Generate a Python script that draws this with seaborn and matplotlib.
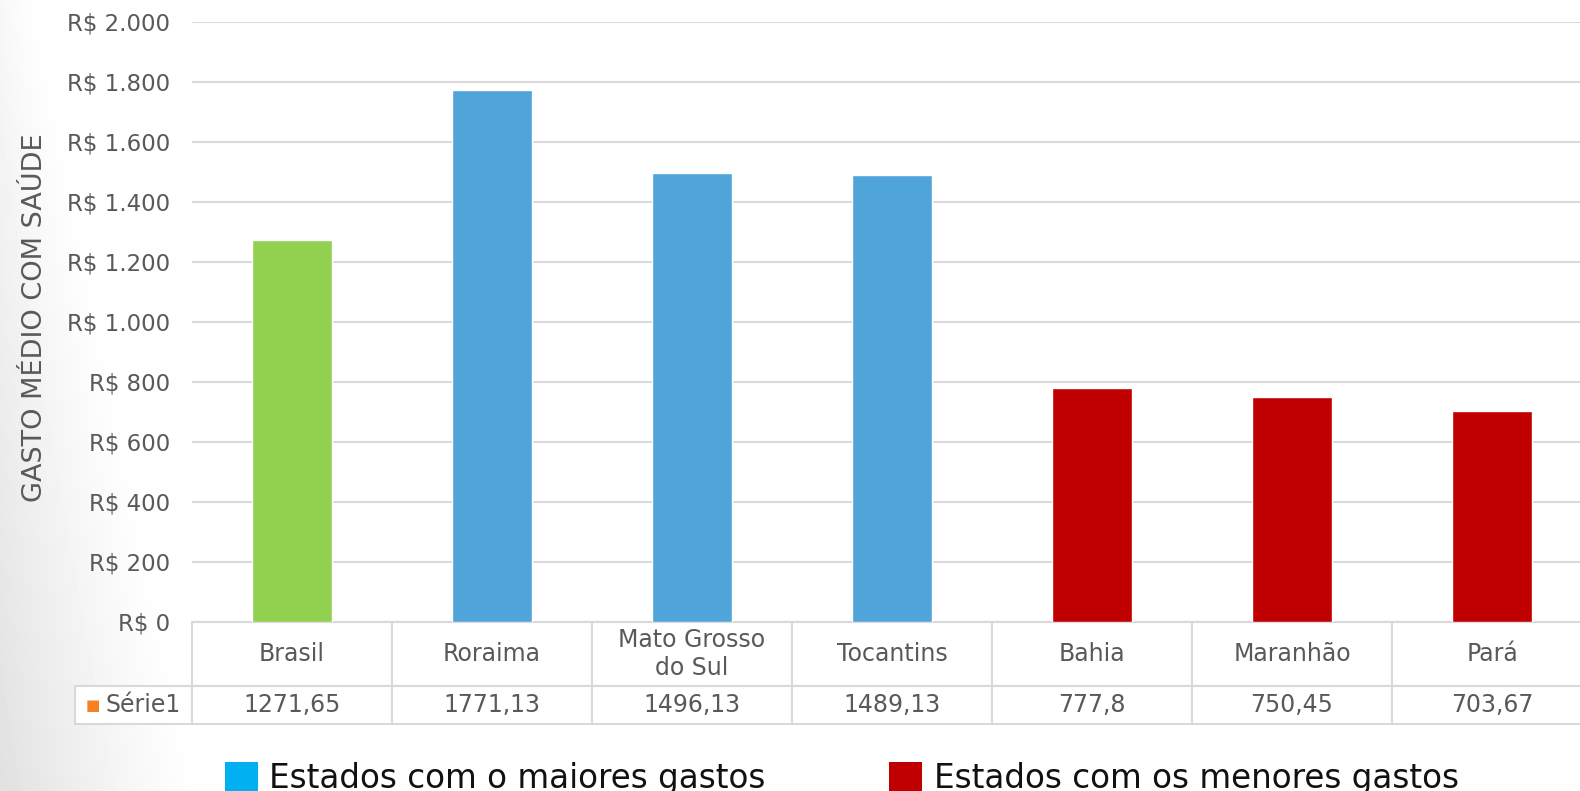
import matplotlib
matplotlib.use("Agg")
import matplotlib.pyplot as plt
from matplotlib.patches import Patch
from matplotlib.table import Table
from matplotlib.ticker import FuncFormatter
import numpy as np
import seaborn as sns

categories = ["Brasil", "Roraima", "Mato Grosso do Sul", "Tocantins", "Bahia", "Maranhão", "Pará"]
header_labels = ["Brasil", "Roraima", "Mato Grosso\ndo Sul", "Tocantins", "Bahia", "Maranhão", "Pará"]
gastos = [1271.65, 1771.13, 1496.13, 1489.13, 777.8, 750.45, 703.67]
grupos = ["Brasil", "maiores", "maiores", "maiores", "menores", "menores", "menores"]
serie_label = "Série1"
legend_labels = ["Estados com o maiores gastos", "Estados com os menores gastos"]

bar_colors = {"Brasil": "#92D050", "maiores": "#4FA5DA", "menores": "#C00000"}
legend_colors = ["#00B0F0", "#C00000"]
gray = "#595959"
line_gray = "#D9D9D9"

sns.set_theme(style="white")
plt.rcParams["font.family"] = ["DejaVu Sans"]

fig = plt.figure(figsize=(15.8, 7.91), dpi=100, facecolor="white")

# soft slide background on the left edge
H, W = 791, 1580
yy, xx = np.mgrid[0:H, 0:W]
reach = 40 + 170 * (yy / H)
amp = 0.03 + 0.09 * (yy / H)
shade = 1 - amp * np.clip(1 - xx / reach, 0, 1) ** 1.3
bg = fig.add_axes([0, 0, 1, 1], zorder=-10)
bg.imshow(shade, cmap="gray", vmin=0, vmax=1, aspect="auto")
bg.axis("off")

# plot area: x 192..1592 px, y 21.7..621.7 px
plot_w, plot_h = 1400, 600
ax = fig.add_axes([192 / W, (H - 621.7) / H, plot_w / W, plot_h / H])
ax.set_facecolor("none")

sns.barplot(
    x=categories,
    y=gastos,
    hue=grupos,
    palette=bar_colors,
    width=0.4,
    dodge=False,
    saturation=1,
    legend=False,
    ax=ax,
)

ax.set_xlim(-0.5, len(categories) - 0.5)
ax.set_ylim(0, 2000)
ax.set_yticks(range(0, 2001, 200))
ax.yaxis.set_major_formatter(FuncFormatter(lambda v, _: "R$ " + f"{int(v):,}".replace(",", ".")))
ax.yaxis.grid(True, color=line_gray, linewidth=1.5)
ax.set_axisbelow(True)
ax.tick_params(axis="y", length=0, pad=15.8, labelsize=16.5, labelcolor=gray)
ax.set_xticks([])
ax.set_xlabel("")
for spine in ax.spines.values():
    spine.set_visible(False)

ax.set_ylabel("GASTO MÉDIO COM SAÚDE", fontsize=19.5, color=gray)
ax.yaxis.set_label_coords((48 - 192) / plot_w, 0.507)

# data table under the plot (Excel style), sizes in axes units
label_w, col_w = 117 / plot_w, 200 / plot_w
head_h, val_h = 64.3 / plot_h, 38.0 / plot_h
tbl = Table(ax, bbox=[0, -(head_h + val_h), 1.0, head_h + val_h])
for i, (head, value) in enumerate(zip(header_labels, gastos)):
    tbl.add_cell(0, i, width=col_w, height=head_h, text=head, loc="center",
                 facecolor="white", edgecolor=line_gray)
    tbl.add_cell(1, i, width=col_w, height=val_h, text=f"{value:g}".replace(".", ","), loc="center",
                 facecolor="white", edgecolor=line_gray)
tbl.add_cell(1, -1, width=label_w, height=val_h, text=serie_label, loc="right",
             facecolor="white", edgecolor=line_gray)
tbl.auto_set_font_size(False)
tbl.set_fontsize(17)
for cell in tbl.get_celld().values():
    cell.set_linewidth(1.5)
    cell.get_text().set_color(gray)
ax.add_table(tbl)

ax.text((93 - 192) / plot_w, -(705 - 621.7) / plot_h, "■", transform=ax.transAxes, color="#F5821F",
        fontsize=11, ha="center", va="center", clip_on=False)

handles = [Patch(facecolor=c, edgecolor="none") for c in legend_colors]
fig.legend(
    handles=handles,
    labels=legend_labels,
    ncol=2,
    loc="upper left",
    bbox_to_anchor=(225 / W, 1 - 762 / H),
    frameon=False,
    fontsize=23.5,
    handlelength=1.0,
    handleheight=1.0,
    handletextpad=0.35,
    columnspacing=3.8,
    borderpad=0,
    borderaxespad=0,
    labelcolor="#111111",
)

fig.savefig("out.png", dpi=100, facecolor="white")
